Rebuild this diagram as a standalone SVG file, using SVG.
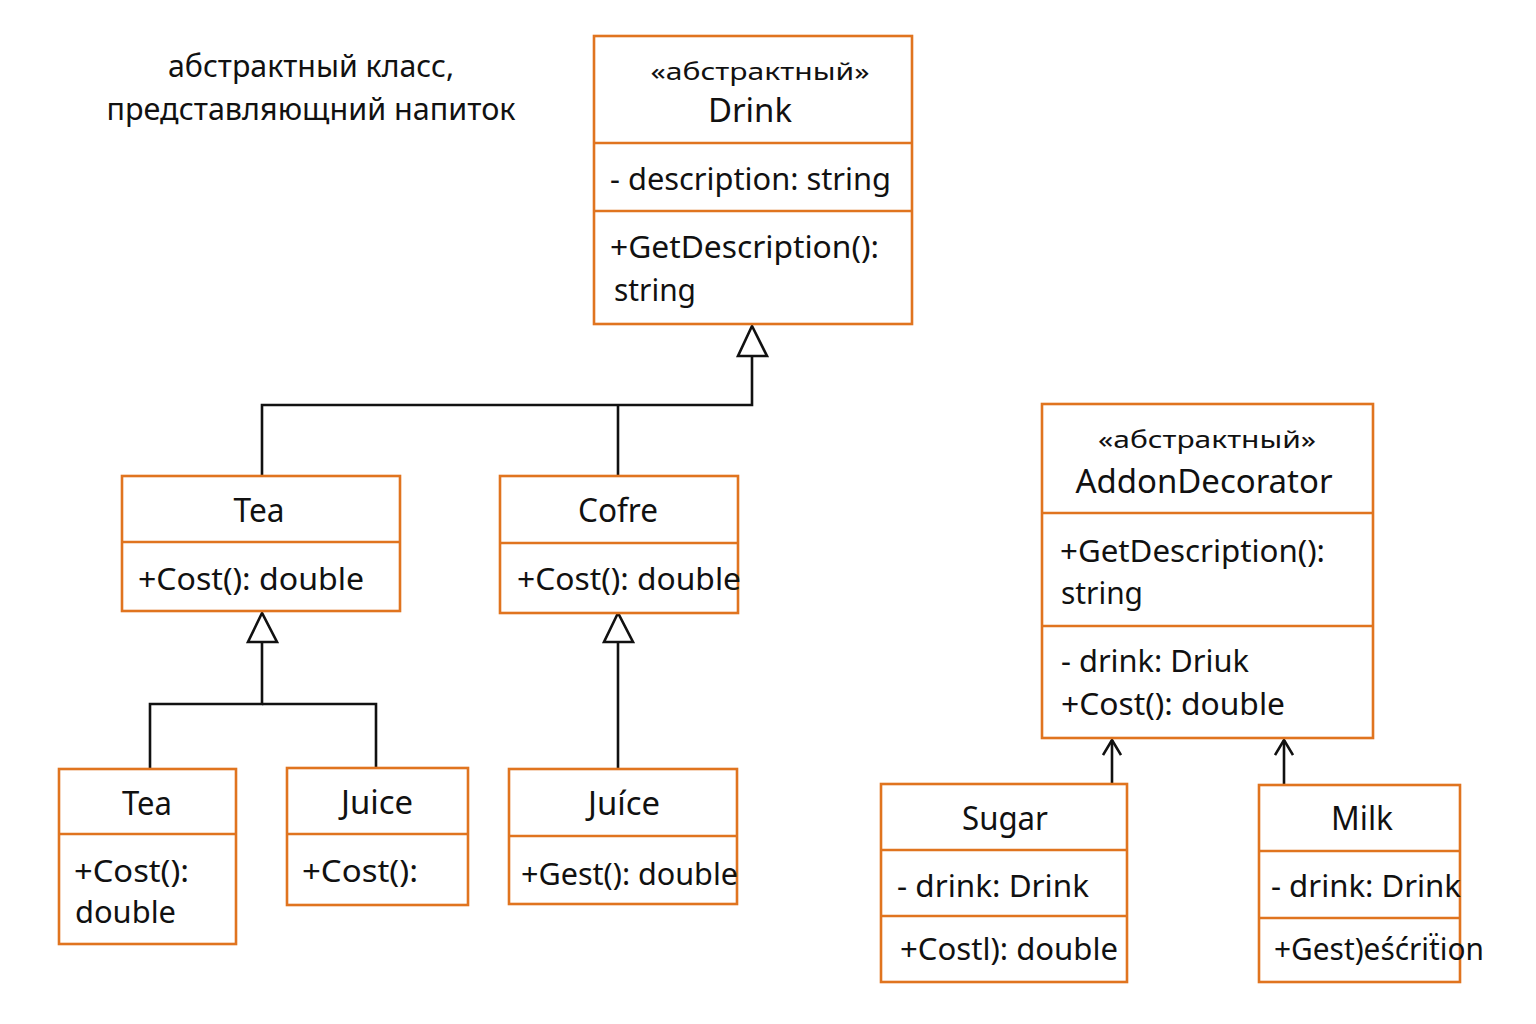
<svg xmlns="http://www.w3.org/2000/svg" width="1536" height="1024" viewBox="0 0 1536 1024">
<style>
.box{fill:#fff;stroke:#E0741F;stroke-width:2.6}
.div{stroke:#E0741F;stroke-width:2.6;fill:none}
.t{font-family:"Noto Sans","Open Sans","DejaVu Sans",sans-serif;fill:#111}
.st{font-size:24px;text-anchor:middle}
.ti{font-size:33px;text-anchor:middle}
.b{font-size:31px}
.an{font-size:30px;text-anchor:middle}
.ln{stroke:#111;stroke-width:2.6;fill:none}
.tri{stroke:#111;stroke-width:2.6;fill:#fff}
</style>
<defs>
<marker id="open" viewBox="0 0 20 20" refX="18" refY="10" markerWidth="20" markerHeight="20" markerUnits="userSpaceOnUse" orient="auto">
<path d="M3,1 L18,10 L3,19" fill="none" stroke="#111" stroke-width="2.6"/>
</marker>
</defs>
<rect width="1536" height="1024" fill="#fff"/>

<g id="note">
<text class="t an" x="311" y="77" textLength="286" lengthAdjust="spacingAndGlyphs">абстрактный класс,</text>
<text class="t an" x="311" y="120" textLength="409" lengthAdjust="spacingAndGlyphs">представляющний напиток</text>
</g>

<g id="connectors">
<path class="ln" d="M752,356 V405 H262 V475"/>
<path class="ln" d="M618,405 V475"/>
<polygon class="tri" points="752,326 738,356 767,356"/>
<path class="ln" d="M262,642 V704 H150 V768"/>
<path class="ln" d="M262,704 H376 V768"/>
<polygon class="tri" points="262,613 248,642 277,642"/>
<path class="ln" d="M618,642 V768"/>
<polygon class="tri" points="618,613 604,642 633,642"/>
<path class="ln" d="M1112,784 V740" marker-end="url(#open)"/>
<path class="ln" d="M1284,785 V740" marker-end="url(#open)"/>
</g>

<g id="drink">
<rect class="box" x="594" y="36" width="318" height="288"/>
<path class="div" d="M594,143 H912 M594,211 H912"/>
<text class="t st" x="760" y="80" textLength="219" lengthAdjust="spacingAndGlyphs">«абстрактный»</text>
<text class="t ti" x="750" y="122" textLength="84" lengthAdjust="spacingAndGlyphs">Drink</text>
<text class="t b" x="610" y="190" textLength="281" lengthAdjust="spacingAndGlyphs">- description: string</text>
<text class="t b" x="610" y="258" textLength="269" lengthAdjust="spacingAndGlyphs">+GetDescription():</text>
<text class="t b" x="614" y="301" textLength="82" lengthAdjust="spacingAndGlyphs">string</text>
</g>

<g id="tea">
<rect class="box" x="122" y="476" width="278" height="135"/>
<path class="div" d="M122,542 H400"/>
<text class="t ti" x="259" y="522" textLength="51" lengthAdjust="spacingAndGlyphs">Tea</text>
<text class="t b" x="138" y="590" textLength="226" lengthAdjust="spacingAndGlyphs">+Cost(): double</text>
</g>

<g id="cofre">
<rect class="box" x="500" y="476" width="238" height="137"/>
<path class="div" d="M500,543 H738"/>
<text class="t ti" x="618" y="522" textLength="80" lengthAdjust="spacingAndGlyphs">Cofre</text>
<text class="t b" x="517" y="590" textLength="224" lengthAdjust="spacingAndGlyphs">+Cost(): double</text>
</g>

<g id="tea2">
<rect class="box" x="59" y="769" width="177" height="175"/>
<path class="div" d="M59,834 H236"/>
<text class="t ti" x="147" y="815" textLength="50" lengthAdjust="spacingAndGlyphs">Tea</text>
<text class="t b" x="74" y="882" textLength="115" lengthAdjust="spacingAndGlyphs">+Cost():</text>
<text class="t b" x="75" y="923" textLength="101" lengthAdjust="spacingAndGlyphs">double</text>
</g>

<g id="juice1">
<rect class="box" x="287" y="768" width="181" height="137"/>
<path class="div" d="M287,834 H468"/>
<text class="t ti" x="377" y="814" textLength="72" lengthAdjust="spacingAndGlyphs">Juice</text>
<text class="t b" x="302" y="882" textLength="116" lengthAdjust="spacingAndGlyphs">+Cost():</text>
</g>

<g id="juice2">
<rect class="box" x="509" y="769" width="228" height="135"/>
<path class="div" d="M509,836 H737"/>
<text class="t ti" x="624" y="815" textLength="72" lengthAdjust="spacingAndGlyphs">Juíce</text>
<text class="t b" x="521" y="885" textLength="217" lengthAdjust="spacingAndGlyphs">+Gest(): double</text>
</g>

<g id="addon">
<rect class="box" x="1042" y="404" width="331" height="334"/>
<path class="div" d="M1042,513 H1373 M1042,626 H1373"/>
<text class="t st" x="1207" y="448" textLength="218" lengthAdjust="spacingAndGlyphs">«абстрактный»</text>
<text class="t ti" x="1204" y="493" textLength="257" lengthAdjust="spacingAndGlyphs">AddonDecorator</text>
<text class="t b" x="1060" y="562" textLength="265" lengthAdjust="spacingAndGlyphs">+GetDescription():</text>
<text class="t b" x="1061" y="604" textLength="82" lengthAdjust="spacingAndGlyphs">string</text>
<text class="t b" x="1061" y="672" textLength="188" lengthAdjust="spacingAndGlyphs">- drink: Driuk</text>
<text class="t b" x="1061" y="715" textLength="224" lengthAdjust="spacingAndGlyphs">+Cost(): double</text>
</g>

<g id="sugar">
<rect class="box" x="881" y="784" width="246" height="198"/>
<path class="div" d="M881,850 H1127 M881,916 H1127"/>
<text class="t ti" x="1005" y="830" textLength="86" lengthAdjust="spacingAndGlyphs">Sugar</text>
<text class="t b" x="897" y="897" textLength="192" lengthAdjust="spacingAndGlyphs">- drink: Drink</text>
<text class="t b" x="900" y="960" textLength="218" lengthAdjust="spacingAndGlyphs">+Costl): double</text>
</g>

<g id="milk">
<rect class="box" x="1259" y="785" width="201" height="197"/>
<path class="div" d="M1259,851 H1460 M1259,918 H1460"/>
<text class="t ti" x="1362" y="830" textLength="62" lengthAdjust="spacingAndGlyphs">Milk</text>
<text class="t b" x="1271" y="897" textLength="190" lengthAdjust="spacingAndGlyphs">- drink: Drink</text>
<text class="t b" x="1274" y="960" textLength="210" lengthAdjust="spacingAndGlyphs">+Gest)eśćriẗion</text>
</g>
</svg>
